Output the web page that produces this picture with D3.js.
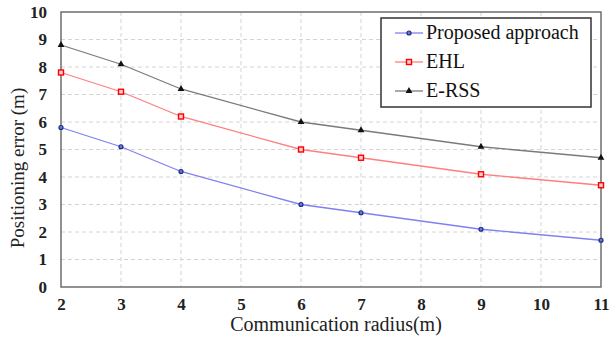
<!DOCTYPE html>
<html>
<head>
<meta charset="utf-8">
<script src="https://cdn.jsdelivr.net/npm/d3@7"></script>
</head>
<body style="margin:0;background:#fff">
<div id="chart"></div>
<script>
// data
const radius = [2, 3, 4, 6, 7, 9, 11];
const proposed = [5.8, 5.1, 4.2, 3.0, 2.7, 2.1, 1.7];
const ehl = [7.8, 7.1, 6.2, 5.0, 4.7, 4.1, 3.7];
const erss = [8.8, 8.1, 7.2, 6.0, 5.7, 5.1, 4.7];
const xTicks = [2, 3, 4, 5, 6, 7, 8, 9, 10, 11];
const yTicks = [0, 1, 2, 3, 4, 5, 6, 7, 8, 9, 10];

const series = [
  { name: 'Proposed approach', values: proposed, color: '#8080f0', mark: '#1a2a8a', shape: 'circle' },
  { name: 'EHL', values: ehl, color: '#ff7f7f', mark: '#ff0000', shape: 'square' },
  { name: 'E-RSS', values: erss, color: '#7a7a7a', mark: '#111111', shape: 'triangle' },
];

const FONT = 'Liberation Serif';
const width = 611, height = 341;
const marginTop = 12, marginRight = 10, marginBottom = 54, marginLeft = 61;

const x = d3.scaleLinear([2, 11], [marginLeft, width - marginRight]);
const y = d3.scaleLinear([0, 10], [height - marginBottom, marginTop]);

const svg = d3.select('#chart').append('svg')
  .attr('width', width)
  .attr('height', height);

// grid
svg.append('g')
  .selectAll('line')
  .data(yTicks.slice(1, -1))
  .join('line')
  .attr('x1', marginLeft).attr('x2', width - marginRight)
  .attr('y1', d => y(d)).attr('y2', d => y(d))
  .attr('stroke', '#d4d4d4').attr('stroke-dasharray', '4,3');
svg.append('g')
  .selectAll('line')
  .data(xTicks.slice(1, -1))
  .join('line')
  .attr('x1', d => x(d)).attr('x2', d => x(d))
  .attr('y1', marginTop).attr('y2', height - marginBottom)
  .attr('stroke', '#d4d4d4').attr('stroke-dasharray', '4,3');

// frame
svg.append('rect')
  .attr('x', marginLeft).attr('y', marginTop)
  .attr('width', width - marginLeft - marginRight)
  .attr('height', height - marginTop - marginBottom)
  .attr('fill', 'none').attr('stroke', '#6e6e6e').attr('stroke-width', 1.5);

// axes
const xAxis = d3.axisBottom(x).tickValues(xTicks).tickSize(0).tickPadding(11);
svg.append('g')
  .attr('transform', `translate(0,${height - marginBottom})`)
  .call(xAxis)
  .call(g => g.select('.domain').remove())
  .call(g => g.selectAll('text').attr('font-family', FONT).attr('font-size', 17)
    .attr('font-weight', 'bold').attr('fill', '#222'));

const yAxis = d3.axisLeft(y).tickValues(yTicks).tickSize(0).tickPadding(14);
svg.append('g')
  .attr('transform', `translate(${marginLeft},0)`)
  .call(yAxis)
  .call(g => g.select('.domain').remove())
  .call(g => g.selectAll('text').attr('font-family', FONT).attr('font-size', 17)
    .attr('font-weight', 'bold').attr('fill', '#222'));

// axis titles
svg.append('text')
  .attr('x', 336)
  .attr('y', 331)
  .attr('text-anchor', 'middle')
  .attr('font-family', FONT)
  .attr('font-size', 20)
  .attr('fill', '#222')
  .text('Communication radius(m)');

svg.append('text')
  .attr('transform', 'translate(24,168) rotate(-90)')
  .attr('text-anchor', 'middle')
  .attr('font-family', FONT)
  .attr('font-size', 19)
  .attr('fill', '#222')
  .text('Positioning error (m)');

// lines + markers
const line = d3.line().x((d, i) => x(radius[i])).y(d => y(d));

function marker(g, shape, cx, cy, color) {
  if (shape === 'circle') {
    g.append('circle').attr('cx', cx).attr('cy', cy).attr('r', 2)
      .attr('fill', '#6a7ad0').attr('stroke', color).attr('stroke-width', 1.2);
  } else if (shape === 'square') {
    g.append('rect').attr('x', cx - 2.5).attr('y', cy - 2.5).attr('width', 5).attr('height', 5)
      .attr('fill', '#ffd0d0').attr('stroke', color).attr('stroke-width', 1.4);
  } else {
    g.append('path').attr('d', d3.symbol(d3.symbolTriangle, 20)())
      .attr('transform', `translate(${cx},${cy})`)
      .attr('fill', color);
  }
}

series.forEach(s => {
  svg.append('path')
    .datum(s.values)
    .attr('d', line)
    .attr('fill', 'none')
    .attr('stroke', s.color)
    .attr('stroke-width', 1.3);
  const g = svg.append('g');
  s.values.forEach((v, i) => marker(g, s.shape, x(radius[i]), y(v), s.mark));
});

// legend
const lg = svg.append('g');
lg.append('rect')
  .attr('x', 381).attr('y', 18).attr('width', 210).attr('height', 89)
  .attr('fill', '#fff').attr('stroke', '#333').attr('stroke-width', 1.5);
series.forEach((s, i) => {
  const yy = 33 + i * 29;
  lg.append('line').attr('x1', 395).attr('x2', 423).attr('y1', yy).attr('y2', yy)
    .attr('stroke', s.color).attr('stroke-width', 1.3);
  marker(lg, s.shape, 409, yy, s.mark);
  lg.append('text').attr('x', 426).attr('y', yy + 6)
    .attr('font-family', FONT)
    .attr('font-size', 20).attr('fill', '#111')
    .text(s.name);
});
</script>
</body>
</html>
